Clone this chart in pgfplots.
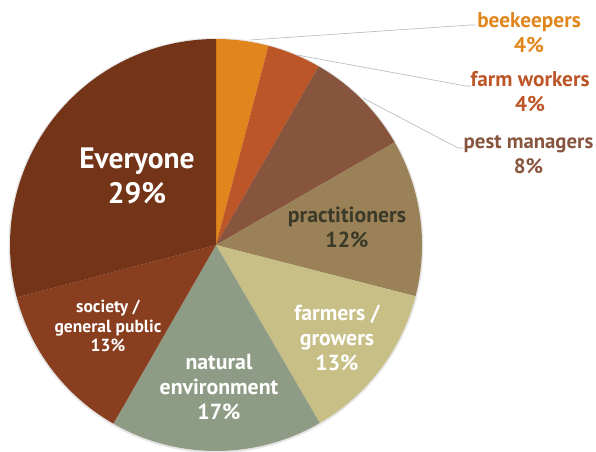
\documentclass[border=0pt]{standalone}
\usepackage{pgfplots}
\pgfplotsset{compat=1.18}
\usepackage{pgfplotstable}
\usepackage{fontspec}
\setmainfont{PT Sans}

\definecolor{cBee}{HTML}{E0861C}
\definecolor{cFarmW}{HTML}{BC5628}
\definecolor{cPest}{HTML}{87543D}
\definecolor{cPract}{HTML}{9A8157}
\definecolor{cFarmers}{HTML}{C7BF85}
\definecolor{cNat}{HTML}{8F9C85}
\definecolor{cSoc}{HTML}{8A3E20}
\definecolor{cEvery}{HTML}{733417}
\definecolor{cLead}{HTML}{AEB8C0}
\definecolor{cDark}{HTML}{3B3A28}

% share of each group (percent), clockwise from 12 o'clock
\pgfplotstableread{
group pct col
beekeepers 4.1 cBee
farmworkers 4.2 cFarmW
pestmanagers 8.4 cPest
practitioners 12.3 cPract
farmers 12.6 cFarmers
natural 16.7 cNat
society 12.6 cSoc
everyone 29.1 cEvery
}\pietable

\begin{document}
\begin{tikzpicture}
\begin{axis}[
  x=1pt, y=1pt,
  xmin=0, xmax=596, ymin=0, ymax=451,
  hide axis, clip=false,
]
\coordinate (ll) at (rel axis cs:0,0);
\coordinate (ur) at (rel axis cs:1,1);
\pgfplotsextra{%
  \fill[black!10] (axis cs:216,205.5) circle[radius=207.5pt];%
  \gdef\cum{0}%
  \pgfplotsforeachungrouped \i in {0,...,7}{%
    \pgfplotstablegetelem{\i}{pct}\of\pietable
    \let\thepct\pgfplotsretval
    \pgfplotstablegetelem{\i}{col}\of\pietable
    \let\thecol\pgfplotsretval
    \pgfmathsetmacro\sa{90-3.6*\cum}%
    \pgfmathsetmacro\ea{90-3.6*(\cum+\thepct)}%
    \pgfmathsetmacro\nc{\cum+\thepct}%
    \xdef\cum{\nc}%
    \fill[\thecol] (axis cs:216,206) -- ++(\sa:206pt) arc[start angle=\sa,end angle=\ea,radius=206pt] -- cycle;%
  }%
}
% leader lines
\draw[cLead, line width=0.6pt] (axis cs:250,411) -- (axis cs:470,426) -- (axis cs:475,426);
\draw[cLead, line width=0.6pt] (axis cs:297,396) -- (axis cs:466,365) -- (axis cs:471,365);
\draw[cLead, line width=0.6pt] (axis cs:363,353) -- (axis cs:458,303) -- (axis cs:463,303);
% outside labels
\node[align=center, text=cBee, font=\bfseries\fontsize{21.3}{25}\selectfont] at (axis cs:529,418.5) {beekeepers\\4\%};
\node[align=center, text=cFarmW, font=\bfseries\fontsize{21.3}{25}\selectfont] at (axis cs:530,359) {farm workers\\4\%};
\node[align=center, text=cPest, font=\bfseries\fontsize{20.8}{25}\selectfont] at (axis cs:528.5,296.5) {pest managers\\8\%};
% inside labels
\node[align=center, text=white, font=\bfseries\fontsize{29.5}{35}\selectfont] at (axis cs:137,275.5) {Everyone\\29\%};
\node[align=center, text=cDark, font=\bfseries\fontsize{21.8}{25}\selectfont] at (axis cs:347,223.5) {practitioners\\12\%};
\node[align=center, text=white, font=\bfseries\fontsize{21.8}{25}\selectfont] at (axis cs:337,113) {farmers /\\growers\\13\%};
\node[align=center, text=white, font=\bfseries\fontsize{21.8}{25}\selectfont] at (axis cs:219,64) {natural\\environment\\17\%};
\node[align=center, text=white, font=\bfseries\fontsize{17.5}{19.5}\selectfont] at (axis cs:108,125) {society /\\general public\\13\%};
\end{axis}
\pgfresetboundingbox
\path[use as bounding box] (ll) rectangle (ur);
\end{tikzpicture}
\end{document}
